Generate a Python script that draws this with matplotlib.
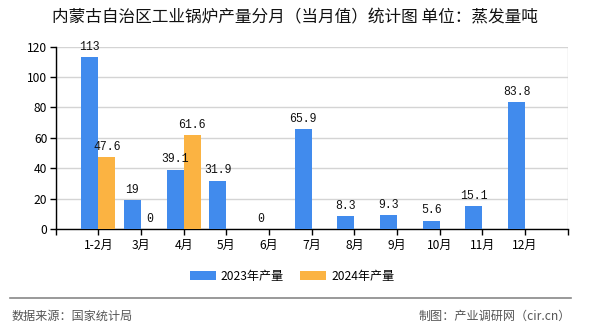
"""Monthly industrial boiler output chart for Inner Mongolia (2023 vs 2024)."""
import matplotlib

matplotlib.use("Agg")
import matplotlib.pyplot as plt  # noqa: E402
import numpy as np  # noqa: E402

CJK = ["Noto Sans CJK SC", "DejaVu Sans"]
plt.rcParams["font.family"] = CJK

TITLE = "内蒙古自治区工业锅炉产量分月（当月值）统计图 单位：蒸发量吨"
MONTHS = ["1-2月", "3月", "4月", "5月", "6月", "7月", "8月", "9月", "10月", "11月", "12月"]
OUT_2023 = [113, 19, 39.1, 31.9, 0, 65.9, 8.3, 9.3, 5.6, 15.1, 83.8]
OUT_2024 = [47.6, 0, 61.6, None, None, None, None, None, None, None, None]
LABELS = ["2023年产量", "2024年产量"]
Y_TICKS = [0, 20, 40, 60, 80, 100, 120]

BLUE = "#418bed"
ORANGE = "#fbb342"
W = 0.4


def fmt(v):
    return f"{v:g}"


fig = plt.figure(figsize=(5.9, 3.3), dpi=100)
ax = fig.add_axes([0.0944, 0.306, 0.868, 0.5525])

x = np.arange(1, len(MONTHS) + 1)
for vals, off, color, lab in [(OUT_2023, -W / 2, BLUE, LABELS[0]),
                              (OUT_2024, W / 2, ORANGE, LABELS[1])]:
    xs = [xi + off for xi, v in zip(x, vals) if v is not None]
    ys = [v for v in vals if v is not None]
    ax.bar(xs, ys, width=W, color=color, label=lab, zorder=3)
    for xi, v in zip(xs, ys):
        ax.annotate(fmt(v), (xi, v), xytext=(0, 3), textcoords="offset points",
                    ha="center", va="bottom", fontsize=8.3,
                    family="Liberation Mono", color="#111111", zorder=4)

ax.set_xlim(0, len(MONTHS) + 1)
ax.set_ylim(0, 120)
ax.set_yticks(Y_TICKS)
ax.set_xticks(x)
ax.set_xticklabels(MONTHS, fontsize=8.7)
ax.tick_params(axis="y", labelsize=8.7, length=4, width=1, direction="out", pad=2)
ax.tick_params(axis="x", length=4, width=1, direction="out", pad=3)
ax.set_xticks(np.arange(0, len(MONTHS) + 2), minor=True)
ax.tick_params(axis="x", which="minor", length=4, width=1)
ax.grid(True, which="minor", axis="x", color="#d4d4d4", lw=1, zorder=0)
ax.grid(True, which="major", axis="y", color="#d4d4d4", lw=1, zorder=0)
for s in ["top", "right"]:
    ax.spines[s].set_visible(False)
ax.spines["left"].set_linewidth(1)
ax.spines["bottom"].set_linewidth(1)

fig.text(0.5, 0.945, TITLE, ha="center", va="center", fontsize=12, color="#111111")

fig.legend(loc="center", bbox_to_anchor=(0.495, 0.163), ncol=2, frameon=False,
           fontsize=8.7, handlelength=2.2, handleheight=0.8, columnspacing=1.3,
           handletextpad=0.4)

fig.add_artist(plt.Line2D([0.017, 0.968], [0.097, 0.097], color="#888888", lw=1.2,
                          transform=fig.transFigure))
fig.text(0.02, 0.042, "数据来源：国家统计局", ha="left", va="center", fontsize=8.7,
         color="#555555")
fig.text(0.968, 0.042, "制图：产业调研网（cir.cn）", ha="right", va="center",
         fontsize=8.7, color="#555555")

fig.savefig("out.png", dpi=100)
